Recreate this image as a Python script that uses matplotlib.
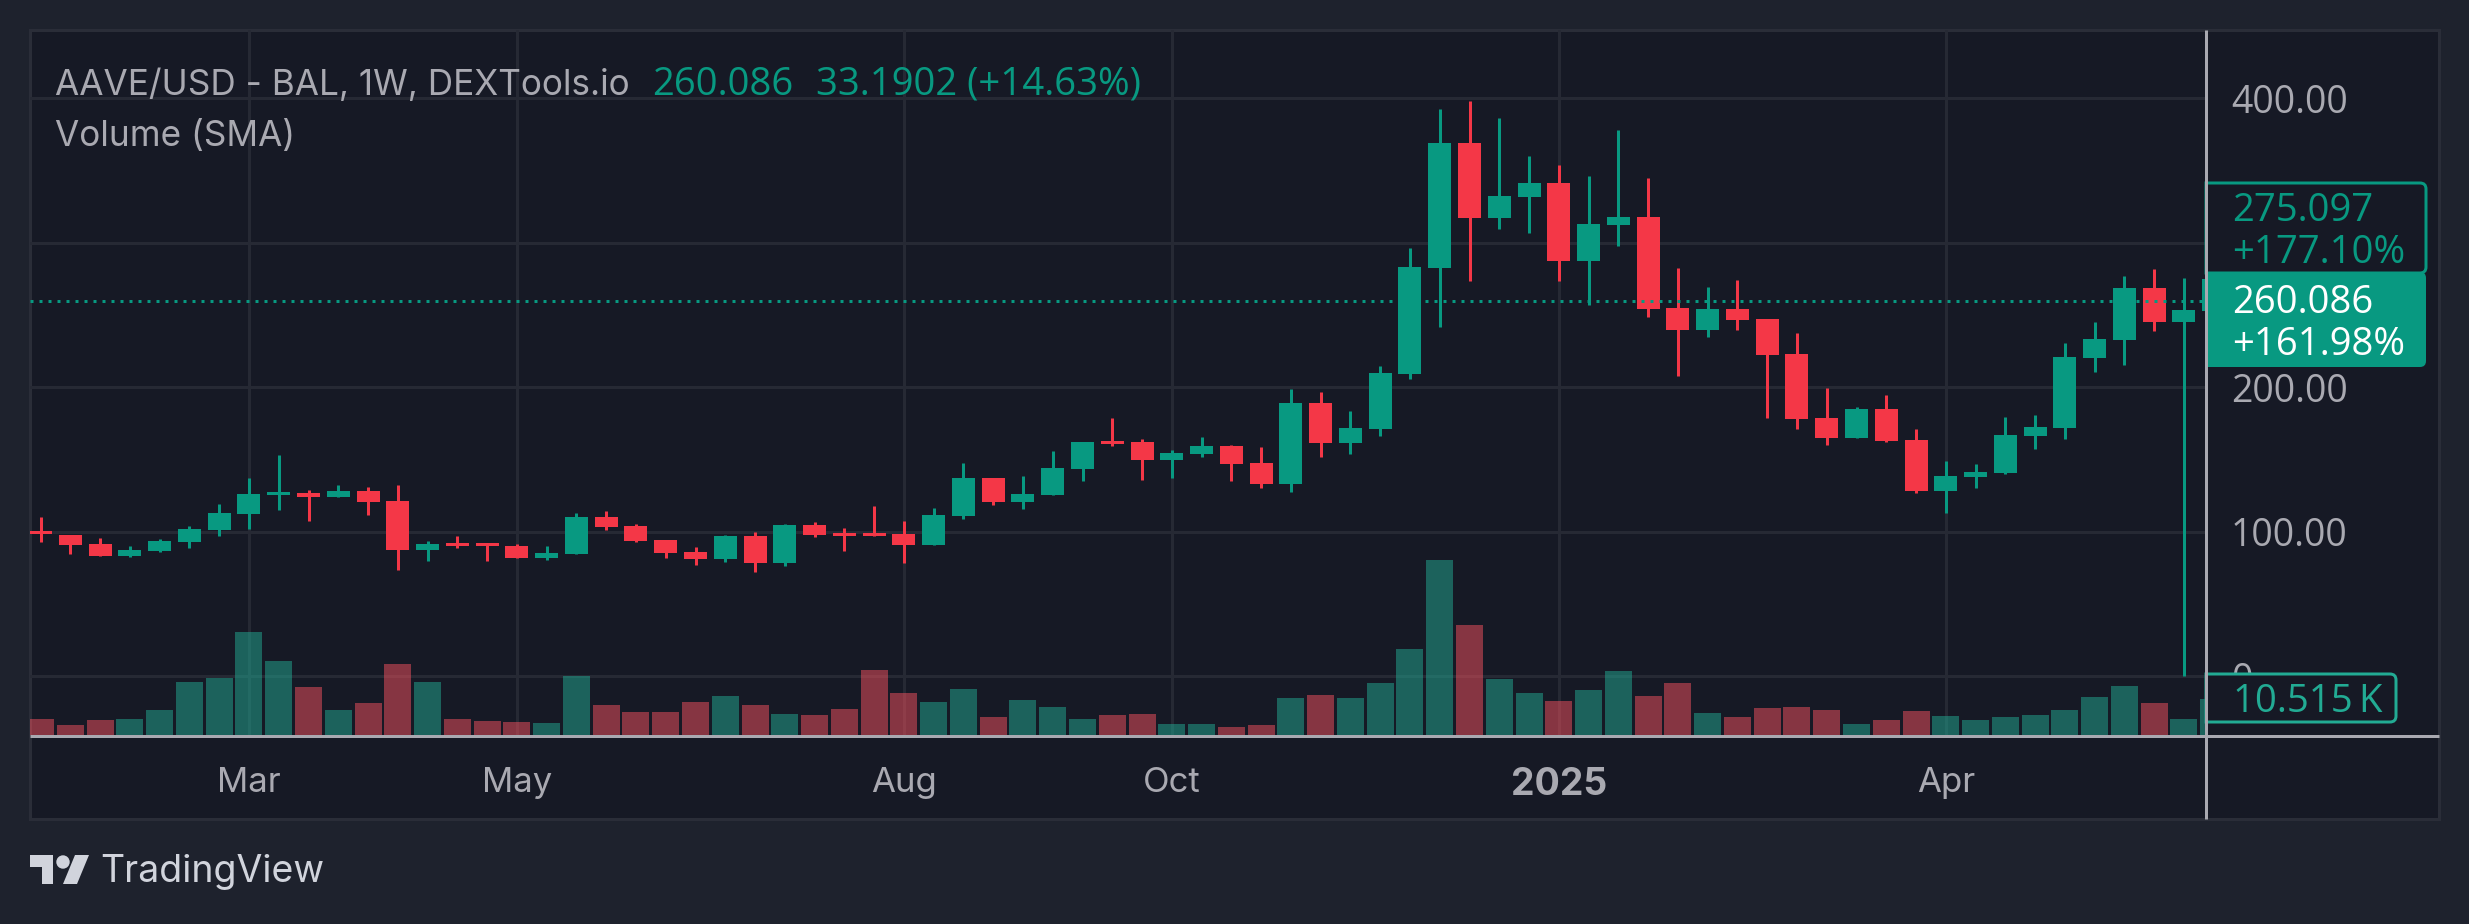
import numpy as np
import matplotlib
matplotlib.use('Agg')
import matplotlib.pyplot as plt
from matplotlib.patches import Rectangle, Circle, Polygon, PathPatch
from matplotlib.path import Path

plt.rcParams['font.family'] = ['Inter', 'DejaVu Sans']

# weekly candles
opens = [100.6, 97.8, 91.6, 83.3, 86.7, 93.0, 101.3, 112.3, 125.5, 126.9, 124.1, 128.3, 121.3, 87.4, 92.3, 92.3, 90.2, 81.9, 84.6,
         110.3, 104.0, 94.3, 86.0, 81.2, 97.1, 78.4, 104.7, 99.2, 99.2, 98.5, 90.9, 110.9, 137.2, 120.6, 125.5, 143.5, 162.8,
         162.1, 149.7, 153.8, 159.3, 147.6, 133.0, 189.1, 161.4, 171.1, 209.2, 282.5, 369.0, 317.1, 331.7, 341.4, 287.4, 312.3,
         317.8, 254.9, 239.6, 254.2, 247.2, 223.0, 178.7, 164.9, 185.0, 163.5, 128.2, 138.0, 140.7, 166.3, 171.9, 220.3, 232.8,
         268.7, 245.2, 253.0]
closes = [98.7, 90.9, 83.3, 87.4, 93.6, 102.0, 113.0, 126.2, 127.6, 124.1, 128.3, 120.6, 87.4, 91.6, 90.2, 90.2, 81.9, 85.3, 110.3,
          103.3, 93.6, 85.3, 81.2, 97.1, 78.4, 104.7, 97.8, 97.1, 97.1, 90.9, 111.6, 137.2, 120.6, 126.2, 144.2, 162.1, 160.7,
          149.7, 154.5, 159.3, 146.9, 133.0, 189.1, 161.4, 171.8, 209.9, 283.2, 369.0, 317.1, 332.4, 341.4, 287.4, 313.0, 317.8,
          254.2, 239.6, 254.2, 246.5, 222.3, 178.0, 164.9, 185.0, 162.8, 128.2, 138.6, 141.4, 167.0, 172.6, 221.0, 233.5, 268.7,
          245.2, 253.5, 275.097]
highs = [110.3, 97.8, 95.7, 90.2, 95.0, 104.0, 119.3, 137.2, 153.0, 128.9, 132.4, 131.0, 132.4, 93.6, 97.1, 92.3, 91.6, 90.2, 113.0,
         114.4, 105.4, 94.3, 89.5, 97.8, 99.9, 105.4, 106.8, 102.6, 117.9, 107.5, 116.5, 147.4, 137.2, 138.6, 155.9, 162.1, 178.7,
         164.2, 156.6, 165.6, 160.0, 158.6, 198.8, 196.7, 183.6, 214.7, 296.4, 392.6, 398.1, 386.3, 360.0, 353.8, 346.2, 378.0,
         344.8, 282.5, 269.4, 274.2, 247.2, 237.6, 199.5, 186.3, 194.6, 171.1, 149.0, 147.0, 179.5, 180.9, 230.7, 245.2, 277.0,
         281.9, 275.6, 275.097]
lows = [93.2, 84.6, 83.3, 82.6, 86.0, 88.8, 97.1, 102.0, 115.1, 107.5, 124.1, 111.6, 73.6, 79.8, 88.8, 79.8, 81.9, 80.5, 84.6,
        101.3, 93.0, 81.9, 77.0, 79.1, 72.2, 76.3, 96.4, 86.7, 97.1, 78.4, 90.9, 108.9, 118.6, 115.8, 125.5, 135.2, 159.3,
        135.8, 137.2, 151.7, 135.1, 130.3, 127.5, 151.7, 153.8, 166.3, 205.7, 241.7, 273.5, 309.5, 306.8, 273.5, 256.9, 297.8,
        248.6, 207.8, 234.8, 239.6, 178.7, 171.1, 160.0, 164.9, 162.1, 126.9, 113.0, 130.4, 140.0, 157.3, 164.3, 210.6, 215.5,
        238.9, 0.0, 253.0]
# volume in thousands
volumes = [4.7, 2.9, 4.4, 4.7, 7.4, 15.6, 16.8, 30.3, 21.8, 14.1, 7.4, 9.4, 20.9, 15.6, 4.7, 4.1, 3.8, 3.5, 17.4, 8.8, 6.8, 6.8, 9.7,
           11.5, 8.8, 6.2, 5.9, 7.7, 19.1, 12.4, 9.7, 13.6, 5.3, 10.3, 8.2, 4.7, 5.9, 6.2, 3.2, 3.2, 2.4, 2.9, 10.9, 11.8, 10.9, 15.3,
           25.3, 51.6, 32.4, 16.5, 12.4, 10.0, 13.3, 18.9, 11.5, 15.3, 6.5, 5.3, 8.0, 8.2, 7.4, 3.2, 4.4, 7.1, 5.6, 4.4, 5.3, 5.9,
           7.4, 11.2, 14.4, 9.4, 4.7, 10.515]

time_ticks = [7, 16, 29, 38, 51, 64]
time_labels = ['Mar', 'May', 'Aug', 'Oct', '2025', 'Apr']
price_ticks = [0, 100, 200, 300, 400]
# the 300 label sits under the price tags in the original
price_labels = ['0', '100.00', '200.00', '', '400.00']
last_price = 260.086

UP = '#089981'
DOWN = '#F43747'
VOL_UP = '#22AB94'
VOL_DOWN = '#F7525F'
OUTER = '#1E222D'
PANE = '#161925'
GRID = '#262934'
AXIS = '#A9A9B1'
TEXT = '#A9A9B1'
LOGO = '#D1D4DC'
NUM_FONT = ['Open Sans', 'DejaVu Sans']

W, H = 2469, 924
DPI = 100
px = 72 / DPI  # one pixel in points


def pixel_axes(fig, zorder):
    a = fig.add_axes([0, 0, 1, 1], zorder=zorder)
    a.set_xlim(0, W)
    a.set_ylim(H, 0)
    a.axis('off')
    a.patch.set_visible(False)
    return a


def tag_path(x0, y0, x1, y1, r=6):
    # price label shape: square on the left, rounded on the right
    verts = [(x0, y0), (x1 - r, y0), (x1, y0), (x1, y0 + r), (x1, y1 - r), (x1, y1), (x1 - r, y1), (x0, y1), (x0, y0)]
    codes = [Path.MOVETO, Path.LINETO, Path.CURVE3, Path.CURVE3, Path.LINETO, Path.CURVE3, Path.CURVE3, Path.LINETO, Path.CLOSEPOLY]
    return Path(verts, codes)


fig = plt.figure(figsize=(W / DPI, H / DPI), dpi=DPI, facecolor=OUTER)

bg = pixel_axes(fig, -1)
bg.add_patch(Rectangle((30, 30), 2409, 789, facecolor=PANE, edgecolor='#2A2D38', linewidth=3 * px))

# price pane, volume shares it on a twin axis
left, right, top, bottom = 30, 2206, 30, 736
ax = fig.add_axes([left / W, 1 - bottom / H, (right - left) / W, (bottom - top) / H], zorder=1)
ax.patch.set_visible(False)
vol = ax.twinx()
vol.patch.set_visible(False)

x = np.arange(len(opens))
o, c, hi, lo = map(np.array, (opens, closes, highs, lows))
colors = np.where(c >= o, UP, DOWN)

ax.vlines(x, lo, hi, colors=colors, linewidth=3 * px, zorder=3)
ax.bar(x, np.abs(c - o), bottom=np.minimum(o, c), width=0.772, color=colors, linewidth=0, zorder=3)
ax.axhline(last_price, color=UP, linewidth=3 * px, linestyle=(0, (1, 2)), zorder=4)

ax.set_xlim(-0.356, 72.74)
ax.set_ylim(-41.3, 447.3)
ax.grid(True, color=GRID, linewidth=3 * px)
ax.set_axisbelow(True)
ax.set_xticks(time_ticks)
ax.set_xticklabels(time_labels)
ax.set_yticks(price_ticks)
ax.set_yticklabels(price_labels, family=NUM_FONT)
ax.yaxis.tick_right()
ax.tick_params(axis='both', length=0, labelcolor=TEXT)
ax.tick_params(axis='x', labelsize=25, pad=22)
ax.tick_params(axis='y', labelsize=27, pad=18)
year_label = ax.get_xticklabels()[4]
year_label.set_fontweight('bold')
year_label.set_fontsize(27)
for s in ax.spines.values():
    s.set_visible(False)

vol_colors = np.where(c >= o, VOL_UP, VOL_DOWN)
vol.bar(x, volumes, width=0.906, color=vol_colors, alpha=0.5, linewidth=0)
vol.set_ylim(-0.3, 207.6)
vol.set_yticks([])
for s in vol.spines.values():
    s.set_visible(False)

# chrome on top: axis lines, price tags, legend, logo
top_ax = pixel_axes(fig, 5)
top_ax.plot([30, 2439], [736, 736], color=AXIS, linewidth=3 * px, solid_capstyle='butt')
top_ax.plot([2206, 2206], [30, 819], color=AXIS, linewidth=3 * px, solid_capstyle='butt')

top_ax.add_patch(PathPatch(tag_path(2206, 183, 2426, 273), facecolor=PANE, edgecolor=UP, linewidth=3 * px))
top_ax.add_patch(PathPatch(tag_path(2205, 272, 2426, 367), facecolor=UP, edgecolor='none'))
top_ax.add_patch(PathPatch(tag_path(2206, 674, 2396, 722), facecolor=PANE, edgecolor=VOL_UP, linewidth=3 * px))

tag_font = dict(fontsize=27.5, va='baseline', ha='left', family=NUM_FONT)
top_ax.text(2232, 221, '275.097', color=UP, **tag_font)
top_ax.text(2232, 263, '+177.10%', color=UP, **tag_font)
top_ax.text(2232, 313, '260.086', color='white', **tag_font)
top_ax.text(2232, 355, '+161.98%', color='white', **tag_font)
top_ax.text(2233, 712, '10.515\u2009K', color=VOL_UP, **tag_font)

legend_font = dict(fontsize=25.3, va='baseline', ha='left')
value_font = dict(fontsize=27.5, va='baseline', ha='left', family=NUM_FONT)
top_ax.text(55, 95, 'AAVE/USD - BAL, 1W, DEXTools.io', color=TEXT, **legend_font)
top_ax.text(652, 95, '260.086', color=UP, **value_font)
top_ax.text(816, 95, '33.1902 (+14.63%)', color=UP, **value_font)
top_ax.text(55, 146, 'Volume (SMA)', color=TEXT, **legend_font)

# TradingView mark
top_ax.add_patch(Polygon([(30, 855), (53, 855), (53, 884), (42, 884), (42, 867), (30, 867)], facecolor=LOGO, edgecolor='none'))
top_ax.add_patch(Circle((63, 862), 6.7, facecolor=LOGO, edgecolor='none'))
top_ax.add_patch(Polygon([(75, 855), (89, 855), (77, 884), (63, 884)], facecolor=LOGO, edgecolor='none'))
top_ax.text(100, 882, 'TradingView', color=LOGO, fontsize=27, va='baseline', ha='left')

fig.savefig('out.png', dpi=DPI, facecolor=OUTER)
